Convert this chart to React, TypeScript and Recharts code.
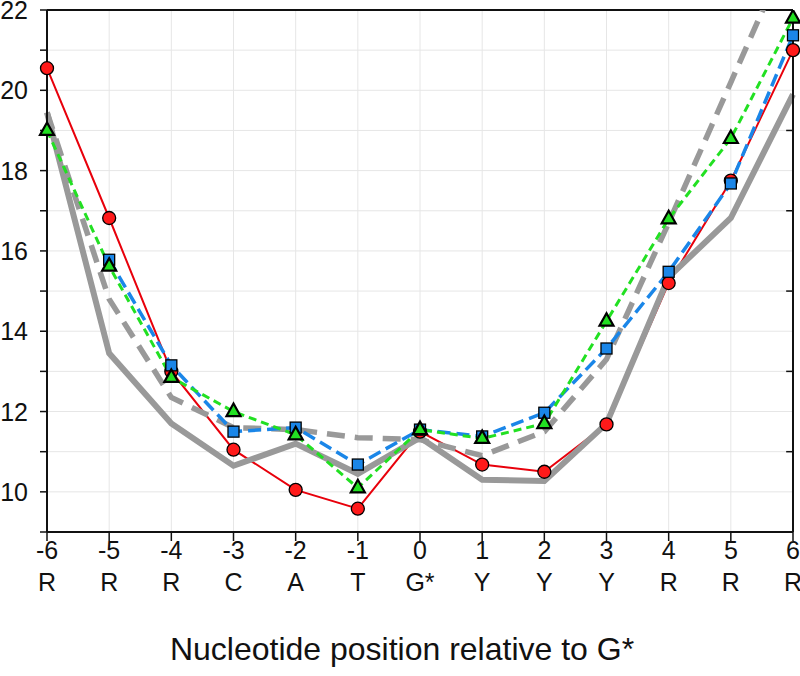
import { LineChart, Line, XAxis, YAxis, CartesianGrid, ReferenceLine, Label } from 'recharts';

const positions = [-6, -5, -4, -3, -2, -1, 0, 1, 2, 3, 4, 5, 6];
const bases = ['R', 'R', 'R', 'C', 'A', 'T', 'G*', 'Y', 'Y', 'Y', 'R', 'R', 'R'];
const yTicks = [9, 10, 11, 12, 13, 14, 15, 16, 17, 18, 19, 20, 21, 22];
const rightTicks = [11, 13, 15, 17, 19, 21];

const red = [20.55, 16.82, 13.0, 11.05, 10.05, 9.58, 11.5, 10.68, 10.5, 11.68, 15.2, 17.75, 21.0];
const blue = [null, 15.78, 13.15, 11.5, 11.6, 10.68, 11.55, 11.38, 11.97, 13.57, 15.48, 17.68, 21.37];
const green = [19.0, 15.62, 12.85, 12.0, 11.42, 10.1, 11.55, 11.33, 11.7, 14.25, 16.8, 18.8, 21.8];
const graySolid = [19.45, 13.45, 11.7, 10.65, 11.2, 10.45, 11.35, 10.3, 10.27, 11.7, 15.35, 16.82, 19.9];
const grayDashed = [19.45, 14.8, 12.35, 11.6, 11.55, 11.35, 11.3, 10.9, 11.5, 13.3, 16.7, 20.2, 23.7];

const data = positions.map((p, i) => ({
  pos: p,
  red: red[i],
  blue: blue[i],
  green: green[i],
  graySolid: graySolid[i],
  grayDashed: grayDashed[i],
}));

const FONT = '"Liberation Sans", Arial, sans-serif';

const RedDot = (p: any) =>
  p.cx == null || p.cy == null ? <g key={p.key} /> : (
    <circle key={p.key} cx={p.cx} cy={p.cy} r={6.5} fill="#ff1a1a" stroke="#000" strokeWidth={1.3} />
  );

const BlueDot = (p: any) =>
  p.cx == null || p.cy == null ? <g key={p.key} /> : (
    <rect key={p.key} x={p.cx - 5.5} y={p.cy - 5.5} width={11} height={11} fill="#1a86e8" stroke="#000" strokeWidth={1.3} />
  );

const GreenDot = (p: any) =>
  p.cx == null || p.cy == null ? <g key={p.key} /> : (
    <polygon
      key={p.key}
      points={`${p.cx},${p.cy - 8} ${p.cx - 7},${p.cy + 4.5} ${p.cx + 7},${p.cy + 4.5}`}
      fill="#22e022"
      stroke="#000"
      strokeWidth={2.2}
    />
  );

const XTick = ({ x, y, payload }: any) => {
  const i = positions.indexOf(payload.value);
  return (
    <g>
      <text x={x} y={y + 16} textAnchor="middle" fontSize={25} fill="#111">{payload.value}</text>
      <text x={x} y={y + 48} textAnchor="middle" fontSize={25} fill="#111">{bases[i]}</text>
    </g>
  );
};

const YTick = ({ x, y, payload }: any) => {
  if (payload.value % 2 !== 0) return <g />;
  return (
    <text x={x} y={y + 9} textAnchor="end" fontSize={25} fill="#111">{payload.value}</text>
  );
};

export default function App() {
  return (
    <div style={{ position: 'absolute', left: 0, top: 0, width: 800, height: 676, background: '#fff', fontFamily: FONT }}>
      <LineChart width={800} height={676} data={data} margin={{ top: 10, right: 0, bottom: 0, left: 0 }}>
        <CartesianGrid stroke="#e6e6e6" strokeWidth={1} />
        <XAxis
          dataKey="pos"
          type="number"
          domain={[-6, 6]}
          ticks={positions}
          interval={0}
          height={144}
          tickSize={9}
          tickLine={{ stroke: '#111', strokeWidth: 1.5 }}
          axisLine={{ stroke: '#111', strokeWidth: 2 }}
          tick={<XTick />}
        >
          <Label value="Nucleotide position relative to G*" position="insideBottom" offset={16} dx={-18} fontSize={32} fill="#111" />
        </XAxis>
        <YAxis
          domain={[9, 22]}
          ticks={yTicks}
          interval={0}
          allowDataOverflow
          width={47}
          tickSize={7}
          tickMargin={12}
          tickLine={{ stroke: '#111', strokeWidth: 1.5 }}
          axisLine={{ stroke: '#111', strokeWidth: 2 }}
          tick={<YTick />}
        />
        <YAxis
          yAxisId="r"
          orientation="right"
          domain={[9, 22]}
          ticks={rightTicks}
          interval={0}
          allowDataOverflow
          width={7}
          tickSize={7}
          tick={false}
          tickLine={false}
          axisLine={{ stroke: '#111', strokeWidth: 2 }}
        />
        <ReferenceLine y={22} stroke="#111" strokeWidth={2} />
        {rightTicks.map((t) => (
          <ReferenceLine
            key={t}
            segment={[{ x: 6, y: t }, { x: 5.89, y: t }]}
            stroke="#111"
            strokeWidth={1.5}
          />
        ))}
        <Line dataKey="red" stroke="#e8000b" strokeWidth={2} dot={RedDot} isAnimationActive={false} />
        <Line dataKey="graySolid" stroke="#999999" strokeWidth={6} dot={false} isAnimationActive={false} />
        <Line yAxisId="r" dataKey="grayDashed" stroke="#999999" strokeWidth={5.5} strokeDasharray="18 10" dot={false} isAnimationActive={false} />
        <Line dataKey="blue" stroke="#1a86e8" strokeWidth={3.5} strokeDasharray="13 6" dot={BlueDot} isAnimationActive={false} />
        <Line dataKey="green" stroke="#22e022" strokeWidth={3} strokeDasharray="8 5" dot={GreenDot} isAnimationActive={false} />
      </LineChart>
    </div>
  );
}
